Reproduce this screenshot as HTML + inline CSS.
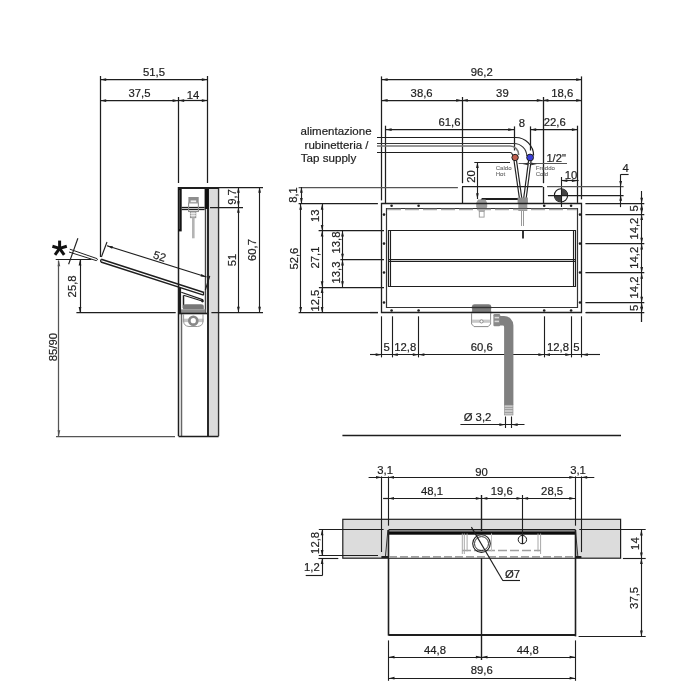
<!DOCTYPE html>
<html><head><meta charset="utf-8"><style>
html,body{margin:0;padding:0;background:#fff;overflow:hidden;width:700px;height:700px;}
svg{display:block;will-change:transform;}
text{font-family:"Liberation Sans",sans-serif;}
</style></head><body>
<svg width="700" height="700" viewBox="0 0 700 700">
<rect width="700" height="700" fill="#fff"/>
<line x1="100.5" y1="76" x2="100.5" y2="257" stroke="#1e1e1e" stroke-width="1.25" />
<line x1="178.5" y1="97" x2="178.5" y2="183" stroke="#1e1e1e" stroke-width="1.25" />
<line x1="207.5" y1="76" x2="207.5" y2="183" stroke="#1e1e1e" stroke-width="1.25" />
<line x1="100.4" y1="79.5" x2="207.6" y2="79.5" stroke="#1e1e1e" stroke-width="1.25" />
<path d="M100.40,79.60 L106.20,78.25 L106.20,80.95 Z" fill="#1e1e1e"/>
<path d="M207.60,79.60 L201.80,80.95 L201.80,78.25 Z" fill="#1e1e1e"/>
<text x="154" y="75.6" text-anchor="middle" font-size="11.3" fill="#1e1e1e"  stroke="#1e1e1e" stroke-width="0.2">51,5</text>
<line x1="100.4" y1="100.5" x2="178.4" y2="100.5" stroke="#1e1e1e" stroke-width="1.25" />
<path d="M100.40,100.60 L106.20,99.25 L106.20,101.95 Z" fill="#1e1e1e"/>
<path d="M178.40,100.60 L172.60,101.95 L172.60,99.25 Z" fill="#1e1e1e"/>
<text x="139.5" y="97" text-anchor="middle" font-size="11.3" fill="#1e1e1e"  stroke="#1e1e1e" stroke-width="0.2">37,5</text>
<line x1="178.4" y1="100.5" x2="207.6" y2="100.5" stroke="#1e1e1e" stroke-width="1.25" />
<path d="M178.40,100.60 L184.20,99.25 L184.20,101.95 Z" fill="#1e1e1e"/>
<path d="M207.60,100.60 L201.80,101.95 L201.80,99.25 Z" fill="#1e1e1e"/>
<text x="193" y="98.8" text-anchor="middle" font-size="11.3" fill="#1e1e1e"  stroke="#1e1e1e" stroke-width="0.2">14</text>
<rect x="208.9" y="187" width="8.3" height="249.2" fill="#dcdcdc" stroke="none" stroke-width="1.0" rx="0"/>
<line x1="218.5" y1="187" x2="218.5" y2="436.2" stroke="#333" stroke-width="1.5" />
<line x1="178.5" y1="187" x2="178.5" y2="436.2" stroke="#1e1e1e" stroke-width="1.5" />
<rect x="178.2" y="187" width="3.5" height="44.4" fill="#141414" stroke="none" stroke-width="1.0" rx="0"/>
<line x1="179.5" y1="190" x2="179.5" y2="229" stroke="#555" stroke-width="0.75" />
<line x1="181.5" y1="313" x2="181.5" y2="436.2" stroke="#666" stroke-width="1.5" />
<line x1="205.5" y1="209" x2="205.5" y2="313" stroke="#444" stroke-width="1.4" />
<rect x="204.6" y="187" width="4.0" height="22" fill="#111" stroke="none" stroke-width="1.0" rx="0"/>
<line x1="208" y1="187" x2="208" y2="436.2" stroke="#111" stroke-width="1.8" />
<line x1="178.2" y1="188" x2="218.6" y2="188" stroke="#1e1e1e" stroke-width="2.0" />
<line x1="218" y1="187.5" x2="263" y2="187.5" stroke="#1e1e1e" stroke-width="1.25" />
<line x1="178.6" y1="436.5" x2="218.6" y2="436.5" stroke="#1e1e1e" stroke-width="1.5" />
<line x1="181.5" y1="207.5" x2="204.6" y2="207.5" stroke="#1e1e1e" stroke-width="1.3" />
<line x1="181.5" y1="209.5" x2="204.6" y2="209.5" stroke="#1e1e1e" stroke-width="1.3" />
<rect x="188.4" y="197" width="10.3" height="5.7" fill="#8e8e8e" stroke="none" stroke-width="1.0" rx="0"/>
<rect x="190.6" y="200.4" width="5.6" height="2.3" fill="#f0f0f0" stroke="none" stroke-width="1.0" rx="0"/>
<rect x="188.6" y="202.9" width="9.8" height="8.6" fill="none" stroke="#909090" stroke-width="1.1" rx="0"/>
<rect x="190.4" y="211.5" width="5.4" height="6.2" fill="#c8c8c8" stroke="#909090" stroke-width="0.9" rx="0"/>
<line x1="190.4" y1="213.5" x2="195.8" y2="213.5" stroke="#f4f4f4" stroke-width="0.75" />
<line x1="190.4" y1="215.5" x2="195.8" y2="215.5" stroke="#f4f4f4" stroke-width="0.75" />
<rect x="192.0" y="217.7" width="2.6" height="20.6" fill="#b4b4b4" stroke="none" stroke-width="1.0" rx="0"/>
<path d="M101.2,259.3 L204.1,292.5" stroke="#1e1e1e" stroke-width="1.45" fill="none" />
<path d="M100.9,262.0 L203.6,295.1" stroke="#1e1e1e" stroke-width="1.45" fill="none" />
<path d="M101.2,259.3 Q100.2,260.8 100.9,262.0" stroke="#1e1e1e" stroke-width="1.3" fill="none" />
<line x1="203.5" y1="292.6" x2="203.5" y2="295.1" stroke="#1e1e1e" stroke-width="1.25" />
<path d="M69.8,249.2 L97,258.6" stroke="#222" stroke-width="1.0" fill="none" />
<path d="M69,252 L96.2,260.6" stroke="#222" stroke-width="1.0" fill="none" />
<path d="M97,258.6 Q98.4,259.8 96.2,260.6" stroke="#222" stroke-width="1.0" fill="none" />
<path d="M181.3,292.3 L203.2,299.9" stroke="#1e1e1e" stroke-width="1.2" fill="none" />
<path d="M183.6,295.3 L202,301.0" stroke="#1e1e1e" stroke-width="1.2" fill="none" />
<line x1="183.5" y1="295.3" x2="183.5" y2="308" stroke="#1e1e1e" stroke-width="1.5" />
<circle cx="202.5" cy="301.1" r="1.35" fill="#1e1e1e" stroke="none" stroke-width="1.0"/>
<path d="M182.9,309.4 L182.9,305.5 Q183,304.3 186,304.3 L201,304.3 Q203.8,304.3 203.8,306 L203.8,309.4 Z" stroke="none" stroke-width="0" fill="#777" />
<rect x="180.5" y="309.4" width="25" height="3.6" fill="#8c8c8c" stroke="none" stroke-width="1.0" rx="0"/>
<line x1="178.6" y1="313.5" x2="207.2" y2="313.5" stroke="#1e1e1e" stroke-width="1.6" />
<line x1="180" y1="287.4" x2="180" y2="313.1" stroke="#1e1e1e" stroke-width="2.2" />
<rect x="182.4" y="318.7" width="21.2" height="3.4" fill="#c4c4c4" stroke="none" stroke-width="1.0" rx="0"/>
<path d="M183.6,314 V321 Q183.6,326 189,326.5 H197.6 Q203,326 203,321 V314" stroke="#999" stroke-width="1.0" fill="none" />
<circle cx="193.3" cy="320.7" r="3.95" fill="#fff" stroke="#888" stroke-width="2.7"/>
<line x1="77.9" y1="238.3" x2="68.6" y2="264.3" stroke="#1e1e1e" stroke-width="1.125" />
<line x1="107" y1="242" x2="101.4" y2="257" stroke="#1e1e1e" stroke-width="1.125" />
<line x1="209.8" y1="275.8" x2="205.3" y2="290" stroke="#1e1e1e" stroke-width="1.125" />
<line x1="107" y1="245.7" x2="206.5" y2="277.0" stroke="#1e1e1e" stroke-width="1.125" />
<path d="M107.00,245.70 L112.94,246.15 L112.13,248.73 Z" fill="#1e1e1e"/>
<path d="M206.50,277.00 L200.56,276.55 L201.37,273.97 Z" fill="#1e1e1e"/>
<text x="0" y="0" text-anchor="middle" font-size="11.3" fill="#1e1e1e" transform="translate(158.5,260) rotate(17.5)" stroke="#1e1e1e" stroke-width="0.2">52</text>
<path d="M59.6,248.4 L59.6,240.6" stroke="#111" stroke-width="3.0" fill="none" stroke-linecap="butt"/>
<path d="M59.6,248.4 L52.4,246.2" stroke="#111" stroke-width="3.0" fill="none" stroke-linecap="butt"/>
<path d="M59.6,248.4 L66.8,246.2" stroke="#111" stroke-width="3.0" fill="none" stroke-linecap="butt"/>
<path d="M59.6,248.4 L55.0,254.8" stroke="#111" stroke-width="3.0" fill="none" stroke-linecap="butt"/>
<path d="M59.6,248.4 L64.2,254.8" stroke="#111" stroke-width="3.0" fill="none" stroke-linecap="butt"/>
<line x1="55.7" y1="259.5" x2="91.4" y2="259.5" stroke="#1e1e1e" stroke-width="1.125" />
<line x1="80.5" y1="259.6" x2="80.5" y2="312.9" stroke="#1e1e1e" stroke-width="1.125" />
<path d="M80.00,259.60 L81.35,265.40 L78.65,265.40 Z" fill="#1e1e1e"/>
<path d="M80.00,312.90 L78.65,307.10 L81.35,307.10 Z" fill="#1e1e1e"/>
<text transform="translate(76.0,286.4) rotate(-90)" text-anchor="middle" font-size="11.3" fill="#1e1e1e"  stroke="#1e1e1e" stroke-width="0.2">25,8</text>
<line x1="76.4" y1="312.5" x2="175.7" y2="312.5" stroke="#1e1e1e" stroke-width="1.25" />
<line x1="211.4" y1="312.5" x2="263" y2="312.5" stroke="#1e1e1e" stroke-width="1.25" />
<line x1="210" y1="207.5" x2="243" y2="207.5" stroke="#1e1e1e" stroke-width="1.25" />
<line x1="58.5" y1="260.5" x2="58.5" y2="436.1" stroke="#555" stroke-width="1.25" />
<path d="M58.90,260.50 L60.25,266.30 L57.55,266.30 Z" fill="#555"/>
<path d="M58.90,436.10 L57.55,430.30 L60.25,430.30 Z" fill="#555"/>
<text transform="translate(56.9,347.1) rotate(-90)" text-anchor="middle" font-size="11.3" fill="#1e1e1e"  stroke="#1e1e1e" stroke-width="0.2">85/90</text>
<line x1="56" y1="436.5" x2="175" y2="436.5" stroke="#555" stroke-width="1.25" />
<line x1="238.5" y1="187" x2="238.5" y2="207" stroke="#1e1e1e" stroke-width="1.125" />
<path d="M238.40,187.00 L239.75,192.80 L237.05,192.80 Z" fill="#1e1e1e"/>
<path d="M238.40,207.00 L237.05,201.20 L239.75,201.20 Z" fill="#1e1e1e"/>
<text transform="translate(236.0,197) rotate(-90)" text-anchor="middle" font-size="11.3" fill="#1e1e1e"  stroke="#1e1e1e" stroke-width="0.2">9,7</text>
<line x1="238.5" y1="207" x2="238.5" y2="312.6" stroke="#1e1e1e" stroke-width="1.125" />
<path d="M238.40,207.00 L239.75,212.80 L237.05,212.80 Z" fill="#1e1e1e"/>
<path d="M238.40,312.60 L237.05,306.80 L239.75,306.80 Z" fill="#1e1e1e"/>
<text transform="translate(236.0,260) rotate(-90)" text-anchor="middle" font-size="11.3" fill="#1e1e1e"  stroke="#1e1e1e" stroke-width="0.2">51</text>
<line x1="259.5" y1="187" x2="259.5" y2="312.6" stroke="#1e1e1e" stroke-width="1.125" />
<path d="M259.60,187.00 L260.95,192.80 L258.25,192.80 Z" fill="#1e1e1e"/>
<path d="M259.60,312.60 L258.25,306.80 L260.95,306.80 Z" fill="#1e1e1e"/>
<text transform="translate(255.6,250) rotate(-90)" text-anchor="middle" font-size="11.3" fill="#1e1e1e"  stroke="#1e1e1e" stroke-width="0.2">60,7</text>
<line x1="381.5" y1="76.4" x2="381.5" y2="200.4" stroke="#1e1e1e" stroke-width="1.25" />
<line x1="581.5" y1="76.4" x2="581.5" y2="199.3" stroke="#1e1e1e" stroke-width="1.25" />
<line x1="462.5" y1="97" x2="462.5" y2="183.2" stroke="#1e1e1e" stroke-width="1.25" />
<line x1="543.5" y1="97" x2="543.5" y2="183.2" stroke="#1e1e1e" stroke-width="1.3" />
<line x1="543.5" y1="186.9" x2="543.5" y2="203.7" stroke="#1e1e1e" stroke-width="1.3" />
<line x1="381.8" y1="79.5" x2="582" y2="79.5" stroke="#1e1e1e" stroke-width="1.25" />
<path d="M381.80,79.60 L387.60,78.25 L387.60,80.95 Z" fill="#1e1e1e"/>
<path d="M582.00,79.60 L576.20,80.95 L576.20,78.25 Z" fill="#1e1e1e"/>
<text x="481.7" y="75.5" text-anchor="middle" font-size="11.3" fill="#1e1e1e"  stroke="#1e1e1e" stroke-width="0.2">96,2</text>
<line x1="381.8" y1="100.5" x2="462" y2="100.5" stroke="#1e1e1e" stroke-width="1.25" />
<path d="M381.80,100.30 L387.60,98.95 L387.60,101.65 Z" fill="#1e1e1e"/>
<path d="M462.00,100.30 L456.20,101.65 L456.20,98.95 Z" fill="#1e1e1e"/>
<text x="421.6" y="97.0" text-anchor="middle" font-size="11.3" fill="#1e1e1e"  stroke="#1e1e1e" stroke-width="0.2">38,6</text>
<line x1="462" y1="100.5" x2="542.6" y2="100.5" stroke="#1e1e1e" stroke-width="1.25" />
<path d="M462.00,100.30 L467.80,98.95 L467.80,101.65 Z" fill="#1e1e1e"/>
<path d="M542.60,100.30 L536.80,101.65 L536.80,98.95 Z" fill="#1e1e1e"/>
<text x="502.4" y="97.4" text-anchor="middle" font-size="11.3" fill="#1e1e1e"  stroke="#1e1e1e" stroke-width="0.2">39</text>
<line x1="542.6" y1="100.5" x2="582" y2="100.5" stroke="#1e1e1e" stroke-width="1.25" />
<path d="M542.60,100.30 L548.40,98.95 L548.40,101.65 Z" fill="#1e1e1e"/>
<path d="M582.00,100.30 L576.20,101.65 L576.20,98.95 Z" fill="#1e1e1e"/>
<text x="562.2" y="97.2" text-anchor="middle" font-size="11.3" fill="#1e1e1e"  stroke="#1e1e1e" stroke-width="0.2">18,6</text>
<line x1="385.5" y1="125.7" x2="385.5" y2="203.7" stroke="#1e1e1e" stroke-width="1.25" />
<line x1="385.8" y1="129.5" x2="514" y2="129.5" stroke="#1e1e1e" stroke-width="1.25" />
<path d="M385.80,129.60 L391.60,128.25 L391.60,130.95 Z" fill="#1e1e1e"/>
<path d="M514.00,129.60 L508.20,130.95 L508.20,128.25 Z" fill="#1e1e1e"/>
<text x="449.5" y="125.7" text-anchor="middle" font-size="11.3" fill="#1e1e1e"  stroke="#1e1e1e" stroke-width="0.2">61,6</text>
<line x1="514.5" y1="126.4" x2="514.5" y2="150.5" stroke="#1e1e1e" stroke-width="1.25" />
<line x1="530.5" y1="126.4" x2="530.5" y2="150.5" stroke="#1e1e1e" stroke-width="1.25" />
<line x1="530.4" y1="129.5" x2="577.7" y2="129.5" stroke="#1e1e1e" stroke-width="1.25" />
<path d="M530.40,129.60 L536.20,128.25 L536.20,130.95 Z" fill="#1e1e1e"/>
<path d="M577.70,129.60 L571.90,130.95 L571.90,128.25 Z" fill="#1e1e1e"/>
<text x="522" y="126.8" text-anchor="middle" font-size="11.3" fill="#1e1e1e"  stroke="#1e1e1e" stroke-width="0.2">8</text>
<text x="554.7" y="126.3" text-anchor="middle" font-size="11.3" fill="#1e1e1e"  stroke="#1e1e1e" stroke-width="0.2">22,6</text>
<line x1="577.5" y1="125.7" x2="577.5" y2="202.9" stroke="#1e1e1e" stroke-width="1.25" />
<text x="300.6" y="135" text-anchor="start" font-size="11.5" fill="#1e1e1e"  stroke="#1e1e1e" stroke-width="0.2">alimentazione</text>
<text x="304.6" y="148.8" text-anchor="start" font-size="11.5" fill="#1e1e1e"  stroke="#1e1e1e" stroke-width="0.2">rubinetteria /</text>
<text x="300.8" y="161.6" text-anchor="start" font-size="11.6" fill="#1e1e1e"  stroke="#1e1e1e" stroke-width="0.2">Tap supply</text>
<path d="M377,137.5 H515.7 A18,18 0 0 1 533.6,155.5" stroke="#1e1e1e" stroke-width="1.2" fill="none" />
<path d="M377,143.5 H514 A12.8,12.8 0 0 1 526.8,156" stroke="#333" stroke-width="1.1" fill="none" />
<path d="M377,146.0 H510 A8.6,8.6 0 0 1 518.6,155" stroke="#777" stroke-width="1.6" fill="none" />
<path d="M377,152.5 H510.4 Q512,152.5 512.5,155" stroke="#1e1e1e" stroke-width="1.2" fill="none" />
<circle cx="515.1" cy="157.5" r="3.2" fill="#c0604f" stroke="#1e1e1e" stroke-width="1.0"/>
<circle cx="530.1" cy="157.5" r="3.4" fill="#3b3fd8" stroke="#1e1e1e" stroke-width="1.0"/>
<path d="M514,160.5 L519.5,199" stroke="#222" stroke-width="1.2" fill="none" />
<path d="M516.5,160.5 L521.9,199" stroke="#222" stroke-width="1.2" fill="none" />
<path d="M528.6,160.5 L523.6,199" stroke="#222" stroke-width="1.2" fill="none" />
<path d="M531.1,160.5 L526.1,199" stroke="#222" stroke-width="1.2" fill="none" />
<text x="495.7" y="169.7" text-anchor="start" font-size="6.1" fill="#666"  stroke="#666" stroke-width="0.08">Caldo</text>
<text x="495.7" y="176.4" text-anchor="start" font-size="6.1" fill="#666"  stroke="#666" stroke-width="0.08">Hot</text>
<text x="535.7" y="169.7" text-anchor="start" font-size="6.1" fill="#666"  stroke="#666" stroke-width="0.08">Freddo</text>
<text x="535.7" y="176.4" text-anchor="start" font-size="6.1" fill="#666"  stroke="#666" stroke-width="0.08">Cold</text>
<text x="546.4" y="161.5" text-anchor="start" font-size="11.2" fill="#1e1e1e"  stroke="#1e1e1e" stroke-width="0.2">1/2"</text>
<line x1="518.6" y1="163.5" x2="567" y2="163.5" stroke="#555" stroke-width="1.125" />
<path d="M522.50,163.90 L528.30,162.55 L528.30,165.25 Z" fill="#333"/>
<path d="M537.00,163.90 L531.20,165.25 L531.20,162.55 Z" fill="#333"/>
<line x1="474.3" y1="162.5" x2="510" y2="162.5" stroke="#1e1e1e" stroke-width="1.125" />
<line x1="477.5" y1="162.1" x2="477.5" y2="199" stroke="#1e1e1e" stroke-width="1.125" />
<path d="M477.40,162.10 L478.75,167.90 L476.05,167.90 Z" fill="#1e1e1e"/>
<path d="M477.40,199.00 L476.05,193.20 L478.75,193.20 Z" fill="#1e1e1e"/>
<text transform="translate(474.7,176.4) rotate(-90)" text-anchor="middle" font-size="11.3" fill="#1e1e1e"  stroke="#1e1e1e" stroke-width="0.2">20</text>
<line x1="298.6" y1="187.5" x2="457.9" y2="187.5" stroke="#555" stroke-width="1.25" />
<line x1="462" y1="186.5" x2="542.7" y2="186.5" stroke="#1e1e1e" stroke-width="1.25" />
<line x1="462.5" y1="186.9" x2="462.5" y2="203.7" stroke="#1e1e1e" stroke-width="1.25" />
<line x1="481.6" y1="199" x2="519.9" y2="199" stroke="#1e1e1e" stroke-width="2.0" />
<line x1="481.5" y1="199.2" x2="481.5" y2="203.5" stroke="#1e1e1e" stroke-width="1.5" />
<path d="M476.2,203 L478,199.6 L485.6,199.6 L487.2,203 L487.2,207 L485.6,209.5 L478,209.5 L476.2,207 Z" stroke="none" stroke-width="0" fill="#9a9a9a" />
<rect x="478.4" y="209.5" width="6.6" height="1.8" fill="#b0b0b0" stroke="none" stroke-width="1.0" rx="0"/>
<rect x="479.3" y="211.3" width="4.8" height="5.8" fill="none" stroke="#999" stroke-width="0.9" rx="0"/>
<rect x="517.6" y="197.5" width="10.3" height="6.5" fill="#8c8c8c" stroke="none" stroke-width="1.0" rx="0"/>
<rect x="518.3" y="204" width="9" height="7" fill="#999" stroke="none" stroke-width="1.0" rx="0"/>
<line x1="521.5" y1="211" x2="521.5" y2="226" stroke="#999" stroke-width="1.0" />
<line x1="523.5" y1="211" x2="523.5" y2="226" stroke="#999" stroke-width="1.0" />
<line x1="523" y1="230" x2="523" y2="238.6" stroke="#1e1e1e" stroke-width="1.8" />
<circle cx="561" cy="195.4" r="6.6" fill="none" stroke="#1e1e1e" stroke-width="1.1"/>
<path d="M561,195.4 L561,188.8 A6.6,6.6 0 0 1 567.6,195.4 Z" stroke="none" stroke-width="0" fill="#444" />
<path d="M561,195.4 L561,202 A6.6,6.6 0 0 1 554.4,195.4 Z" stroke="none" stroke-width="0" fill="#444" />
<line x1="561.5" y1="177" x2="561.5" y2="207" stroke="#1e1e1e" stroke-width="1.125" />
<line x1="547" y1="186.5" x2="623.6" y2="186.5" stroke="#555" stroke-width="1.25" />
<line x1="547.9" y1="195.5" x2="623.6" y2="195.5" stroke="#1e1e1e" stroke-width="1.25" />
<line x1="561" y1="180.5" x2="578.6" y2="180.5" stroke="#1e1e1e" stroke-width="1.125" />
<path d="M577.70,180.70 L571.90,182.05 L571.90,179.35 Z" fill="#1e1e1e"/>
<path d="M561.50,180.70 L567.30,179.35 L567.30,182.05 Z" fill="#1e1e1e"/>
<text x="571" y="178.6" text-anchor="middle" font-size="11.3" fill="#1e1e1e"  stroke="#1e1e1e" stroke-width="0.2">10</text>
<line x1="620.5" y1="174.3" x2="620.5" y2="207.1" stroke="#1e1e1e" stroke-width="1.125" />
<line x1="620.7" y1="174.5" x2="628.6" y2="174.5" stroke="#1e1e1e" stroke-width="1.125" />
<path d="M620.70,186.70 L619.35,180.90 L622.05,180.90 Z" fill="#1e1e1e"/>
<path d="M620.70,195.00 L622.05,200.80 L619.35,200.80 Z" fill="#1e1e1e"/>
<text x="625.6" y="172.2" text-anchor="middle" font-size="11.3" fill="#1e1e1e"  stroke="#1e1e1e" stroke-width="0.2">4</text>
<line x1="298.6" y1="203.5" x2="377.9" y2="203.5" stroke="#1e1e1e" stroke-width="1.25" />
<line x1="298.6" y1="312.5" x2="377.9" y2="312.5" stroke="#1e1e1e" stroke-width="1.25" />
<path d="M381.5,312.5 V203.5 H581.5 V312.5 Z" stroke="#1e1e1e" stroke-width="1.3" fill="none" />
<path d="M386.5,307.5 V208.5 H577.5 V307.5 Z" stroke="#333" stroke-width="1.2" fill="none" />
<line x1="387" y1="209.5" x2="577" y2="209.5" stroke="#aaa" stroke-width="1.3" stroke-dasharray="14,4"/>
<path d="M388.5,286.5 V230.5 H575.5 V286.5 Z" stroke="#1e1e1e" stroke-width="1.2" fill="none" />
<line x1="390.5" y1="230.8" x2="390.5" y2="286.5" stroke="#1e1e1e" stroke-width="1.125" />
<line x1="388.9" y1="259.5" x2="575.8" y2="259.5" stroke="#1e1e1e" stroke-width="1.25" />
<line x1="388.9" y1="261.5" x2="575.8" y2="261.5" stroke="#1e1e1e" stroke-width="1.125" />
<line x1="573.5" y1="230.8" x2="573.5" y2="286.5" stroke="#1e1e1e" stroke-width="1.125" />
<circle cx="384.0" cy="214.6" r="1.3" fill="#1e1e1e" stroke="none" stroke-width="1.0"/>
<circle cx="580.0" cy="214.6" r="1.3" fill="#1e1e1e" stroke="none" stroke-width="1.0"/>
<circle cx="384.0" cy="243.6" r="1.3" fill="#1e1e1e" stroke="none" stroke-width="1.0"/>
<circle cx="580.0" cy="243.6" r="1.3" fill="#1e1e1e" stroke="none" stroke-width="1.0"/>
<circle cx="384.0" cy="272.5" r="1.3" fill="#1e1e1e" stroke="none" stroke-width="1.0"/>
<circle cx="580.0" cy="272.5" r="1.3" fill="#1e1e1e" stroke="none" stroke-width="1.0"/>
<circle cx="384.0" cy="302.5" r="1.3" fill="#1e1e1e" stroke="none" stroke-width="1.0"/>
<circle cx="580.0" cy="302.5" r="1.3" fill="#1e1e1e" stroke="none" stroke-width="1.0"/>
<circle cx="391.6" cy="205.8" r="1.3" fill="#1e1e1e" stroke="none" stroke-width="1.0"/>
<circle cx="391.6" cy="310.5" r="1.3" fill="#1e1e1e" stroke="none" stroke-width="1.0"/>
<circle cx="418.6" cy="205.8" r="1.3" fill="#1e1e1e" stroke="none" stroke-width="1.0"/>
<circle cx="418.6" cy="310.5" r="1.3" fill="#1e1e1e" stroke="none" stroke-width="1.0"/>
<circle cx="544.2" cy="205.8" r="1.3" fill="#1e1e1e" stroke="none" stroke-width="1.0"/>
<circle cx="544.2" cy="310.5" r="1.3" fill="#1e1e1e" stroke="none" stroke-width="1.0"/>
<circle cx="571.1" cy="205.8" r="1.3" fill="#1e1e1e" stroke="none" stroke-width="1.0"/>
<circle cx="571.1" cy="310.5" r="1.3" fill="#1e1e1e" stroke="none" stroke-width="1.0"/>
<line x1="318.6" y1="230.5" x2="384" y2="230.5" stroke="#1e1e1e" stroke-width="1.25" />
<line x1="340.4" y1="259.5" x2="384" y2="259.5" stroke="#1e1e1e" stroke-width="1.25" />
<line x1="318.9" y1="287.5" x2="384" y2="287.5" stroke="#1e1e1e" stroke-width="1.25" />
<line x1="300.5" y1="203.9" x2="300.5" y2="312.8" stroke="#1e1e1e" stroke-width="1.125" />
<path d="M300.70,203.90 L302.05,209.70 L299.35,209.70 Z" fill="#1e1e1e"/>
<path d="M300.70,312.80 L299.35,307.00 L302.05,307.00 Z" fill="#1e1e1e"/>
<text transform="translate(298.3,258.6) rotate(-90)" text-anchor="middle" font-size="11.3" fill="#1e1e1e"  stroke="#1e1e1e" stroke-width="0.2">52,6</text>
<line x1="298.5" y1="187.5" x2="298.5" y2="187.5" stroke="#1e1e1e" stroke-width="1.25" />
<line x1="301.5" y1="187" x2="301.5" y2="203.9" stroke="#1e1e1e" stroke-width="1.125" />
<path d="M301.40,187.00 L302.75,192.80 L300.05,192.80 Z" fill="#1e1e1e"/>
<path d="M301.40,203.90 L300.05,198.10 L302.75,198.10 Z" fill="#1e1e1e"/>
<text transform="translate(296.9,195) rotate(-90)" text-anchor="middle" font-size="11.3" fill="#1e1e1e"  stroke="#1e1e1e" stroke-width="0.2">8,1</text>
<line x1="322.5" y1="203.9" x2="322.5" y2="230.7" stroke="#1e1e1e" stroke-width="1.125" />
<path d="M322.10,203.90 L323.45,209.70 L320.75,209.70 Z" fill="#1e1e1e"/>
<path d="M322.10,230.70 L320.75,224.90 L323.45,224.90 Z" fill="#1e1e1e"/>
<text transform="translate(319.3,215.7) rotate(-90)" text-anchor="middle" font-size="11.3" fill="#1e1e1e"  stroke="#1e1e1e" stroke-width="0.2">13</text>
<line x1="322.5" y1="230.7" x2="322.5" y2="287.1" stroke="#1e1e1e" stroke-width="1.125" />
<path d="M322.10,230.70 L323.45,236.50 L320.75,236.50 Z" fill="#1e1e1e"/>
<path d="M322.10,287.10 L320.75,281.30 L323.45,281.30 Z" fill="#1e1e1e"/>
<text transform="translate(319.3,257.5) rotate(-90)" text-anchor="middle" font-size="11.3" fill="#1e1e1e"  stroke="#1e1e1e" stroke-width="0.2">27,1</text>
<line x1="322.5" y1="287.1" x2="322.5" y2="312.8" stroke="#1e1e1e" stroke-width="1.125" />
<path d="M322.10,287.10 L323.45,292.90 L320.75,292.90 Z" fill="#1e1e1e"/>
<path d="M322.10,312.80 L320.75,307.00 L323.45,307.00 Z" fill="#1e1e1e"/>
<text transform="translate(319.3,300.6) rotate(-90)" text-anchor="middle" font-size="11.3" fill="#1e1e1e"  stroke="#1e1e1e" stroke-width="0.2">12,5</text>
<line x1="342.5" y1="230.7" x2="342.5" y2="259.6" stroke="#1e1e1e" stroke-width="1.125" />
<path d="M342.50,230.70 L343.85,236.50 L341.15,236.50 Z" fill="#1e1e1e"/>
<path d="M342.50,259.60 L341.15,253.80 L343.85,253.80 Z" fill="#1e1e1e"/>
<text transform="translate(340.0,242.5) rotate(-90)" text-anchor="middle" font-size="11.3" fill="#1e1e1e"  stroke="#1e1e1e" stroke-width="0.2">13,8</text>
<line x1="342.5" y1="259.6" x2="342.5" y2="287.1" stroke="#1e1e1e" stroke-width="1.125" />
<path d="M342.50,259.60 L343.85,265.40 L341.15,265.40 Z" fill="#1e1e1e"/>
<path d="M342.50,287.10 L341.15,281.30 L343.85,281.30 Z" fill="#1e1e1e"/>
<text transform="translate(340.0,272.5) rotate(-90)" text-anchor="middle" font-size="11.3" fill="#1e1e1e"  stroke="#1e1e1e" stroke-width="0.2">13,3</text>
<line x1="585.4" y1="203.5" x2="644.3" y2="203.5" stroke="#1e1e1e" stroke-width="1.25" />
<line x1="585.4" y1="214.5" x2="644.3" y2="214.5" stroke="#1e1e1e" stroke-width="1.25" />
<line x1="585.4" y1="243.5" x2="644.3" y2="243.5" stroke="#1e1e1e" stroke-width="1.25" />
<line x1="585.4" y1="272.5" x2="644.3" y2="272.5" stroke="#1e1e1e" stroke-width="1.25" />
<line x1="585.4" y1="302.5" x2="644.3" y2="302.5" stroke="#1e1e1e" stroke-width="1.25" />
<line x1="641.5" y1="191" x2="641.5" y2="203.6" stroke="#1e1e1e" stroke-width="1.125" />
<path d="M641.70,203.60 L640.35,197.80 L643.05,197.80 Z" fill="#1e1e1e"/>
<line x1="641.5" y1="203.6" x2="641.5" y2="214.2" stroke="#1e1e1e" stroke-width="1.125" />
<path d="M641.70,203.60 L643.05,209.40 L640.35,209.40 Z" fill="#1e1e1e"/>
<path d="M641.70,214.20 L640.35,208.40 L643.05,208.40 Z" fill="#1e1e1e"/>
<text transform="translate(637.9,208.3) rotate(-90)" text-anchor="middle" font-size="11.3" fill="#1e1e1e"  stroke="#1e1e1e" stroke-width="0.2">5</text>
<line x1="641.5" y1="214.2" x2="641.5" y2="243.6" stroke="#1e1e1e" stroke-width="1.125" />
<path d="M641.70,214.20 L643.05,220.00 L640.35,220.00 Z" fill="#1e1e1e"/>
<path d="M641.70,243.60 L640.35,237.80 L643.05,237.80 Z" fill="#1e1e1e"/>
<text transform="translate(637.9,228.6) rotate(-90)" text-anchor="middle" font-size="11.3" fill="#1e1e1e"  stroke="#1e1e1e" stroke-width="0.2">14,2</text>
<line x1="641.5" y1="243.6" x2="641.5" y2="272.9" stroke="#1e1e1e" stroke-width="1.125" />
<path d="M641.70,243.60 L643.05,249.40 L640.35,249.40 Z" fill="#1e1e1e"/>
<path d="M641.70,272.90 L640.35,267.10 L643.05,267.10 Z" fill="#1e1e1e"/>
<text transform="translate(637.9,257.8) rotate(-90)" text-anchor="middle" font-size="11.3" fill="#1e1e1e"  stroke="#1e1e1e" stroke-width="0.2">14,2</text>
<line x1="641.5" y1="272.9" x2="641.5" y2="302.5" stroke="#1e1e1e" stroke-width="1.125" />
<path d="M641.70,272.90 L643.05,278.70 L640.35,278.70 Z" fill="#1e1e1e"/>
<path d="M641.70,302.50 L640.35,296.70 L643.05,296.70 Z" fill="#1e1e1e"/>
<text transform="translate(637.9,287.5) rotate(-90)" text-anchor="middle" font-size="11.3" fill="#1e1e1e"  stroke="#1e1e1e" stroke-width="0.2">14,2</text>
<line x1="641.5" y1="302.5" x2="641.5" y2="312.8" stroke="#1e1e1e" stroke-width="1.125" />
<path d="M641.70,302.50 L643.05,308.30 L640.35,308.30 Z" fill="#1e1e1e"/>
<path d="M641.70,312.80 L640.35,307.00 L643.05,307.00 Z" fill="#1e1e1e"/>
<line x1="641.5" y1="312.8" x2="641.5" y2="322" stroke="#1e1e1e" stroke-width="1.25" />
<text transform="translate(637.9,307.8) rotate(-90)" text-anchor="middle" font-size="11.3" fill="#1e1e1e"  stroke="#1e1e1e" stroke-width="0.2">5</text>
<line x1="585.4" y1="312.5" x2="644.3" y2="312.5" stroke="#1e1e1e" stroke-width="1.25" />
<line x1="381.5" y1="316.3" x2="381.5" y2="357.4" stroke="#1e1e1e" stroke-width="1.125" />
<line x1="392.5" y1="316.3" x2="392.5" y2="357.4" stroke="#1e1e1e" stroke-width="1.125" />
<line x1="418.5" y1="316.3" x2="418.5" y2="357.4" stroke="#1e1e1e" stroke-width="1.125" />
<line x1="544.5" y1="316.3" x2="544.5" y2="357.4" stroke="#1e1e1e" stroke-width="1.125" />
<line x1="571.5" y1="316.3" x2="571.5" y2="357.4" stroke="#1e1e1e" stroke-width="1.125" />
<line x1="581.5" y1="316.3" x2="581.5" y2="357.4" stroke="#1e1e1e" stroke-width="1.125" />
<line x1="381.5" y1="354.5" x2="582" y2="354.5" stroke="#1e1e1e" stroke-width="1.125" />
<path d="M381.50,354.70 L375.70,356.05 L375.70,353.35 Z" fill="#1e1e1e"/>
<path d="M392.00,354.70 L397.80,353.35 L397.80,356.05 Z" fill="#1e1e1e"/>
<path d="M418.60,354.70 L412.80,356.05 L412.80,353.35 Z" fill="#1e1e1e"/>
<path d="M418.60,354.70 L424.40,353.35 L424.40,356.05 Z" fill="#1e1e1e"/>
<path d="M544.20,354.70 L538.40,356.05 L538.40,353.35 Z" fill="#1e1e1e"/>
<path d="M544.20,354.70 L550.00,353.35 L550.00,356.05 Z" fill="#1e1e1e"/>
<path d="M571.10,354.70 L565.30,356.05 L565.30,353.35 Z" fill="#1e1e1e"/>
<path d="M582.00,354.70 L587.80,353.35 L587.80,356.05 Z" fill="#1e1e1e"/>
<line x1="370" y1="354.5" x2="381.5" y2="354.5" stroke="#1e1e1e" stroke-width="1.125" />
<line x1="582" y1="354.5" x2="600" y2="354.5" stroke="#1e1e1e" stroke-width="1.125" />
<text x="386.6" y="351" text-anchor="middle" font-size="11.3" fill="#1e1e1e"  stroke="#1e1e1e" stroke-width="0.2">5</text>
<text x="405.2" y="351" text-anchor="middle" font-size="11.3" fill="#1e1e1e"  stroke="#1e1e1e" stroke-width="0.2">12,8</text>
<text x="481.7" y="351" text-anchor="middle" font-size="11.3" fill="#1e1e1e"  stroke="#1e1e1e" stroke-width="0.2">60,6</text>
<text x="558" y="351" text-anchor="middle" font-size="11.3" fill="#1e1e1e"  stroke="#1e1e1e" stroke-width="0.2">12,8</text>
<text x="576.5" y="351" text-anchor="middle" font-size="11.3" fill="#1e1e1e"  stroke="#1e1e1e" stroke-width="0.2">5</text>
<line x1="370" y1="312.5" x2="378" y2="312.5" stroke="#1e1e1e" stroke-width="1.25" />
<line x1="586" y1="312.5" x2="600" y2="312.5" stroke="#1e1e1e" stroke-width="1.25" />
<path d="M472.1,313.2 L472.1,306 Q472.1,304.3 474.5,304.3 L488.7,304.3 Q491.1,304.3 491.1,306 L491.1,313.2 Z" stroke="none" stroke-width="0" fill="#7a7a7a" />
<path d="M471.6,313.2 L471.6,324 L474,326.6 L488.2,326.6 L490.6,324 L490.6,313.2" stroke="#8a8a8a" stroke-width="1.0" fill="#fff" />
<line x1="471.5" y1="307.5" x2="491.6" y2="307.5" stroke="#333" stroke-width="1.375" />
<line x1="471.5" y1="312.5" x2="491.6" y2="312.5" stroke="#1e1e1e" stroke-width="1.4" />
<rect x="472" y="319.6" width="18.3" height="3.2" fill="#c8c8c8" stroke="none" stroke-width="1.0" rx="0"/>
<circle cx="481.5" cy="321.4" r="1.6" fill="#fff" stroke="#8a8a8a" stroke-width="1.0"/>
<rect x="493.4" y="314" width="6.8" height="12.2" fill="#8a8a8a" stroke="none" stroke-width="1.0" rx="1.2"/>
<rect x="494.6" y="316.8" width="4.4" height="1.6" fill="#d8d8d8" stroke="none" stroke-width="1.0" rx="0"/>
<rect x="494.6" y="320.6" width="4.4" height="1.6" fill="#d8d8d8" stroke="none" stroke-width="1.0" rx="0"/>
<path d="M500,315.9 L504,315.9 A9.4,9.4 0 0 1 513.4,325.3 L513.4,405 L504.1,405 L504.1,327 Q504.1,325.6 502.7,325.6 L500,325.6 Z" stroke="none" stroke-width="0" fill="#808080" />
<rect x="504.5" y="405" width="8.5" height="10" fill="#c8c8c8" stroke="#888" stroke-width="0.6" rx="0"/>
<line x1="504.5" y1="407.5" x2="513" y2="407.5" stroke="#999" stroke-width="0.875" />
<line x1="504.5" y1="409.5" x2="513" y2="409.5" stroke="#999" stroke-width="0.875" />
<line x1="504.5" y1="412.5" x2="513" y2="412.5" stroke="#999" stroke-width="0.875" />
<line x1="342.4" y1="435.5" x2="621" y2="435.5" stroke="#1e1e1e" stroke-width="1.3" />
<text x="477.5" y="420.8" text-anchor="middle" font-size="11.3" fill="#1e1e1e"  stroke="#1e1e1e" stroke-width="0.2">Ø 3,2</text>
<line x1="460.4" y1="424.5" x2="524.5" y2="424.5" stroke="#1e1e1e" stroke-width="1.125" />
<line x1="505.5" y1="416.5" x2="505.5" y2="428" stroke="#1e1e1e" stroke-width="1.125" />
<line x1="511.5" y1="416.5" x2="511.5" y2="428" stroke="#1e1e1e" stroke-width="1.125" />
<path d="M505.20,424.70 L499.40,426.05 L499.40,423.35 Z" fill="#1e1e1e"/>
<path d="M511.80,424.70 L517.60,423.35 L517.60,426.05 Z" fill="#1e1e1e"/>
<rect x="342.8" y="519.3" width="277.8" height="38.9" fill="#dcdcdc" stroke="#1e1e1e" stroke-width="1.2" rx="0"/>
<rect x="388.6" y="531" width="186.5" height="26.5" fill="#fff" stroke="none" stroke-width="1.0" rx="0"/>
<rect x="388.6" y="529.8" width="186.8" height="1.8" fill="#a8a8a8" stroke="none" stroke-width="1.0" rx="0"/>
<line x1="388.6" y1="529.5" x2="575.4" y2="529.5" stroke="#1e1e1e" stroke-width="1.25" />
<rect x="388.6" y="531.4" width="186.8" height="3.3" fill="#0c0c0c" stroke="none" stroke-width="1.0" rx="0"/>
<line x1="381.5" y1="476.4" x2="381.5" y2="552" stroke="#1e1e1e" stroke-width="1.125" />
<line x1="388.5" y1="476.4" x2="388.5" y2="525.7" stroke="#1e1e1e" stroke-width="1.125" />
<line x1="575.5" y1="476.4" x2="575.5" y2="525.7" stroke="#1e1e1e" stroke-width="1.125" />
<line x1="581.5" y1="476.4" x2="581.5" y2="552.1" stroke="#1e1e1e" stroke-width="1.125" />
<line x1="575.5" y1="530" x2="575.5" y2="636.4" stroke="#1e1e1e" stroke-width="1.6" />
<line x1="368.6" y1="477.5" x2="594.3" y2="477.5" stroke="#1e1e1e" stroke-width="1.125" />
<path d="M381.80,477.30 L376.00,478.65 L376.00,475.95 Z" fill="#1e1e1e"/>
<path d="M388.20,477.30 L394.00,475.95 L394.00,478.65 Z" fill="#1e1e1e"/>
<path d="M575.10,477.30 L569.30,478.65 L569.30,475.95 Z" fill="#1e1e1e"/>
<path d="M581.40,477.30 L587.20,475.95 L587.20,478.65 Z" fill="#1e1e1e"/>
<text x="385.2" y="473.6" text-anchor="middle" font-size="11.3" fill="#1e1e1e"  stroke="#1e1e1e" stroke-width="0.2">3,1</text>
<text x="481.6" y="475.6" text-anchor="middle" font-size="11.3" fill="#1e1e1e"  stroke="#1e1e1e" stroke-width="0.2">90</text>
<text x="578" y="473.8" text-anchor="middle" font-size="11.3" fill="#1e1e1e"  stroke="#1e1e1e" stroke-width="0.2">3,1</text>
<line x1="481.5" y1="495" x2="481.5" y2="531" stroke="#1e1e1e" stroke-width="1.4" />
<line x1="481.5" y1="556.4" x2="481.5" y2="660" stroke="#1e1e1e" stroke-width="1.4" />
<line x1="522.5" y1="495" x2="522.5" y2="543.6" stroke="#1e1e1e" stroke-width="1.125" />
<line x1="388.2" y1="498.5" x2="481.6" y2="498.5" stroke="#1e1e1e" stroke-width="1.125" />
<path d="M388.20,498.40 L394.00,497.05 L394.00,499.75 Z" fill="#1e1e1e"/>
<path d="M481.60,498.40 L475.80,499.75 L475.80,497.05 Z" fill="#1e1e1e"/>
<line x1="383.1" y1="498.5" x2="388.2" y2="498.5" stroke="#1e1e1e" stroke-width="1.25" />
<line x1="481.6" y1="498.5" x2="522.3" y2="498.5" stroke="#1e1e1e" stroke-width="1.125" />
<path d="M481.60,498.40 L487.40,497.05 L487.40,499.75 Z" fill="#1e1e1e"/>
<path d="M522.30,498.40 L516.50,499.75 L516.50,497.05 Z" fill="#1e1e1e"/>
<line x1="522.3" y1="498.5" x2="575.1" y2="498.5" stroke="#1e1e1e" stroke-width="1.125" />
<path d="M522.30,498.40 L528.10,497.05 L528.10,499.75 Z" fill="#1e1e1e"/>
<path d="M575.10,498.40 L569.30,499.75 L569.30,497.05 Z" fill="#1e1e1e"/>
<text x="432" y="494.9" text-anchor="middle" font-size="11.3" fill="#1e1e1e"  stroke="#1e1e1e" stroke-width="0.2">48,1</text>
<text x="501.8" y="494.9" text-anchor="middle" font-size="11.3" fill="#1e1e1e"  stroke="#1e1e1e" stroke-width="0.2">19,6</text>
<text x="552.1" y="494.9" text-anchor="middle" font-size="11.3" fill="#1e1e1e"  stroke="#1e1e1e" stroke-width="0.2">28,5</text>
<line x1="388.5" y1="530" x2="388.5" y2="635.6" stroke="#1e1e1e" stroke-width="1.6" />
<line x1="388.6" y1="635" x2="575.4" y2="635" stroke="#1e1e1e" stroke-width="2.0" />
<path d="M387.9,530 L385.4,557.1" stroke="#1e1e1e" stroke-width="0.9" fill="none" />
<path d="M575.4,529.6 L577.9,557.1" stroke="#1e1e1e" stroke-width="0.9" fill="none" />
<line x1="381.4" y1="557" x2="388.6" y2="557" stroke="#1e1e1e" stroke-width="2.0" />
<line x1="575" y1="557" x2="581.4" y2="557" stroke="#1e1e1e" stroke-width="2.0" />
<line x1="389" y1="557" x2="575" y2="557" stroke="#a0a0a0" stroke-width="2.0" stroke-dasharray="8,3"/>
<line x1="462" y1="550.5" x2="541" y2="550.5" stroke="#a0a0a0" stroke-width="1.4" stroke-dasharray="9,3"/>
<path d="M462.3,533.5 V554 M464.3,533.5 V554 M467.1,533.5 V551.4 M538,533.5 V551.4 M540.6,533.5 V554" stroke="#a8a8a8" stroke-width="1.0" fill="none" />
<line x1="491.5" y1="533.5" x2="491.5" y2="551.4" stroke="#c0c0c0" stroke-width="1.0" />
<circle cx="481.5" cy="543.6" r="8.8" fill="none" stroke="#1e1e1e" stroke-width="1.1"/>
<circle cx="481.5" cy="543.6" r="7.0" fill="none" stroke="#1e1e1e" stroke-width="0.9"/>
<circle cx="522.4" cy="539.6" r="4.2" fill="none" stroke="#1e1e1e" stroke-width="1.0"/>
<line x1="522.5" y1="535" x2="522.5" y2="544" stroke="#1e1e1e" stroke-width="1.125" />
<line x1="471.4" y1="527.1" x2="502.9" y2="580.7" stroke="#1e1e1e" stroke-width="1.125" />
<line x1="502.9" y1="580.5" x2="520" y2="580.5" stroke="#1e1e1e" stroke-width="1.125" />
<text x="512.6" y="578" text-anchor="middle" font-size="11.3" fill="#1e1e1e"  stroke="#1e1e1e" stroke-width="0.2">Ø7</text>
<line x1="318.8" y1="529.5" x2="383.6" y2="529.5" stroke="#1e1e1e" stroke-width="1.125" />
<line x1="318.8" y1="555.5" x2="378" y2="555.5" stroke="#1e1e1e" stroke-width="1.125" />
<line x1="579.3" y1="529.5" x2="645.7" y2="529.5" stroke="#1e1e1e" stroke-width="1.125" />
<line x1="318.4" y1="558.5" x2="338.3" y2="558.5" stroke="#1e1e1e" stroke-width="1.125" />
<line x1="322.5" y1="529.4" x2="322.5" y2="555.9" stroke="#1e1e1e" stroke-width="1.125" />
<path d="M322.10,529.40 L323.45,535.20 L320.75,535.20 Z" fill="#1e1e1e"/>
<path d="M322.10,555.90 L320.75,550.10 L323.45,550.10 Z" fill="#1e1e1e"/>
<text transform="translate(319.1,542.9) rotate(-90)" text-anchor="middle" font-size="11.3" fill="#1e1e1e"  stroke="#1e1e1e" stroke-width="0.2">12,8</text>
<line x1="322.5" y1="558.2" x2="322.5" y2="575.4" stroke="#1e1e1e" stroke-width="1.125" />
<line x1="305.7" y1="575.5" x2="322.6" y2="575.5" stroke="#1e1e1e" stroke-width="1.125" />
<path d="M322.10,558.20 L323.45,564.00 L320.75,564.00 Z" fill="#1e1e1e"/>
<text x="319.7" y="571.2" text-anchor="end" font-size="11.3" fill="#1e1e1e"  stroke="#1e1e1e" stroke-width="0.2">1,2</text>
<line x1="622.9" y1="558.5" x2="645.7" y2="558.5" stroke="#1e1e1e" stroke-width="1.125" />
<line x1="578.6" y1="636.5" x2="645.7" y2="636.5" stroke="#1e1e1e" stroke-width="1.125" />
<line x1="641.5" y1="529.6" x2="641.5" y2="558.2" stroke="#1e1e1e" stroke-width="1.125" />
<path d="M641.40,529.60 L642.75,535.40 L640.05,535.40 Z" fill="#1e1e1e"/>
<path d="M641.40,558.20 L640.05,552.40 L642.75,552.40 Z" fill="#1e1e1e"/>
<text transform="translate(638.6,543.6) rotate(-90)" text-anchor="middle" font-size="11.3" fill="#1e1e1e"  stroke="#1e1e1e" stroke-width="0.2">14</text>
<line x1="641.5" y1="558.2" x2="641.5" y2="636.4" stroke="#1e1e1e" stroke-width="1.125" />
<path d="M641.40,558.20 L642.75,564.00 L640.05,564.00 Z" fill="#1e1e1e"/>
<path d="M641.40,636.40 L640.05,630.60 L642.75,630.60 Z" fill="#1e1e1e"/>
<text transform="translate(638.2,597.9) rotate(-90)" text-anchor="middle" font-size="11.3" fill="#1e1e1e"  stroke="#1e1e1e" stroke-width="0.2">37,5</text>
<line x1="388.5" y1="640.4" x2="388.5" y2="680.8" stroke="#1e1e1e" stroke-width="1.125" />
<line x1="575.5" y1="640.4" x2="575.5" y2="680.8" stroke="#1e1e1e" stroke-width="1.125" />
<line x1="388.7" y1="657.5" x2="481.7" y2="657.5" stroke="#1e1e1e" stroke-width="1.125" />
<path d="M388.70,657.10 L394.50,655.75 L394.50,658.45 Z" fill="#1e1e1e"/>
<path d="M481.70,657.10 L475.90,658.45 L475.90,655.75 Z" fill="#1e1e1e"/>
<line x1="481.7" y1="657.5" x2="575.4" y2="657.5" stroke="#1e1e1e" stroke-width="1.125" />
<path d="M481.70,657.10 L487.50,655.75 L487.50,658.45 Z" fill="#1e1e1e"/>
<path d="M575.40,657.10 L569.60,658.45 L569.60,655.75 Z" fill="#1e1e1e"/>
<line x1="388.7" y1="678.5" x2="575.4" y2="678.5" stroke="#1e1e1e" stroke-width="1.125" />
<path d="M388.70,678.20 L394.50,676.85 L394.50,679.55 Z" fill="#1e1e1e"/>
<path d="M575.40,678.20 L569.60,679.55 L569.60,676.85 Z" fill="#1e1e1e"/>
<text x="435" y="653.8" text-anchor="middle" font-size="11.3" fill="#1e1e1e"  stroke="#1e1e1e" stroke-width="0.2">44,8</text>
<text x="527.7" y="653.8" text-anchor="middle" font-size="11.3" fill="#1e1e1e"  stroke="#1e1e1e" stroke-width="0.2">44,8</text>
<text x="481.7" y="674.2" text-anchor="middle" font-size="11.3" fill="#1e1e1e"  stroke="#1e1e1e" stroke-width="0.2">89,6</text>
</svg>
</body></html>
